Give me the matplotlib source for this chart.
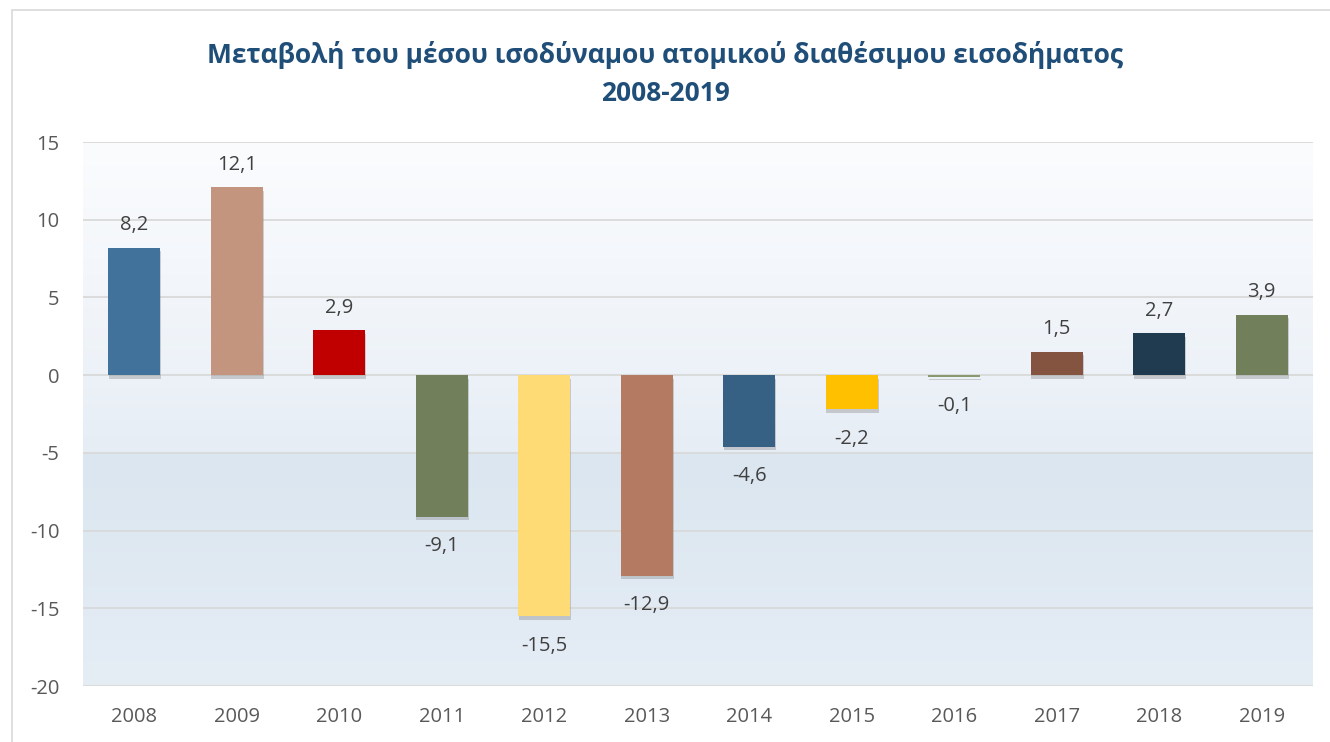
import numpy as np
import matplotlib
matplotlib.use("Agg")
import matplotlib.pyplot as plt
import matplotlib.patheffects as pe
from matplotlib.patches import Rectangle

plt.rcParams['font.family'] = ['Open Sans', 'DejaVu Sans']

# data
years = ['2008', '2009', '2010', '2011', '2012', '2013',
         '2014', '2015', '2016', '2017', '2018', '2019']
values = [8.2, 12.1, 2.9, -9.1, -15.5, -12.9, -4.6, -2.2, -0.1, 1.5, 2.7, 3.9]
colors = ['#41729c', '#c3957e', '#c00000', '#71805a', '#ffdb75', '#b47a62',
          '#376085', '#ffc000', '#8a9a70', '#855440', '#203a50', '#71805a']
yticks = [-20, -15, -10, -5, 0, 5, 10, 15]
title = 'Μεταβολή του μέσου ισοδύναμου ατομικού διαθέσιμου εισοδήματος\n2008-2019'

fig = plt.figure(figsize=(13.3, 7.42), dpi=100)
# chart frame
fig.patches.append(Rectangle((12 / 1330, -0.01), 1.0, 1 - 10 / 742 + 0.01,
                             transform=fig.transFigure, fill=False,
                             edgecolor='#d9d9d9', linewidth=1.2))

ax = fig.add_axes([83 / 1330, 1 - 686 / 742, 1230 / 1330, 544 / 742])

# background gradient (top -> bottom)
stops_y = [1.0, 0.575, 0.43, 0.425, 0.0]
stops_c = ['#fbfcfe', '#edf2f8', '#e6edf5', '#dbe6f0', '#e5edf5']
yy = np.linspace(0, 1, 300)
rgb = np.array([matplotlib.colors.to_rgb(c) for c in stops_c])
grad = np.zeros((300, 1, 3))
for k in range(3):
    grad[:, 0, k] = np.interp(yy, stops_y[::-1], rgb[::-1, k])
ax.imshow(grad[::-1], extent=[0, 1, 0, 1], transform=ax.transAxes,
          aspect='auto', zorder=0)

x = np.arange(len(years))
bars = ax.bar(x, values, width=0.51, color=colors, zorder=3)
for b in bars:
    b.set_path_effects([pe.SimplePatchShadow(offset=(0.5, -2.5), shadow_rgbFace='#6f6f6f',
                                             alpha=0.3), pe.Normal()])

for xi, v in zip(x, values):
    lab = f'{v:.1f}'.replace('.', ',')
    if v >= 0:
        ax.annotate(lab, (xi, v), xytext=(0, 9), textcoords='offset points',
                    ha='center', va='bottom', fontsize=14.5, color='#404040')
    else:
        ax.annotate(lab, (xi, v), xytext=(0, -14), textcoords='offset points',
                    ha='center', va='top', fontsize=14.5, color='#404040')

ax.set_xlim(-0.5, len(years) - 0.5)
ax.set_ylim(-20, 15)
ax.set_yticks(yticks)
ax.set_yticklabels([str(t) for t in yticks])
ax.set_xticks(x)
ax.set_xticklabels(years)
ax.tick_params(axis='both', length=0, labelsize=14.5, colors='#595959')
ax.tick_params(axis='y', pad=17)
ax.tick_params(axis='x', pad=15)
ax.grid(axis='y', color='#d9d9d9', linewidth=1.3, zorder=1)
ax.set_axisbelow(True)
for s in ax.spines.values():
    s.set_visible(False)

fig.text(0.5, 0.9, title, ha='center', va='center', fontsize=19,
         fontweight='bold', color='#1f4e79', linespacing=1.55)

fig.savefig('out.png', dpi=100)
